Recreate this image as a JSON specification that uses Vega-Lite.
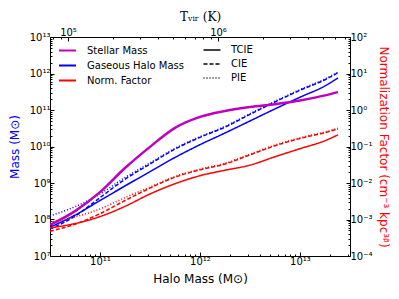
{
  "$schema": "https://vega.github.io/schema/vega-lite/v6.json",
  "width": 300,
  "height": 219,
  "autosize": {"type": "none"},
  "padding": {"left": 50, "top": 37, "right": 49, "bottom": 43},
  "config": {
    "view": {"stroke": "black", "strokeWidth": 1},
    "font": "DejaVu Sans",
    "axis": {"domain": false, "grid": false, "labelFont": "DejaVu Sans", "labelFontSize": 10, "labelColor": "black", "tickColor": "black", "titleFont": "DejaVu Sans", "titleFontWeight": "normal", "titleFontSize": 12, "labelPadding": 3}
  },
  "datasets": {
    "mass": [
      {"mh": 3.162e10, "value": 7.079e7, "quantity": "Stellar Mass", "model": "TCIE"},
      {"mh": 5.623e10, "value": 1.698e8, "quantity": "Stellar Mass", "model": "TCIE"},
      {"mh": 1e11, "value": 5.623e8, "quantity": "Stellar Mass", "model": "TCIE"},
      {"mh": 1.778e11, "value": 2.570e9, "quantity": "Stellar Mass", "model": "TCIE"},
      {"mh": 3.162e11, "value": 9.772e9, "quantity": "Stellar Mass", "model": "TCIE"},
      {"mh": 5.623e11, "value": 3.236e10, "quantity": "Stellar Mass", "model": "TCIE"},
      {"mh": 1e12, "value": 6.457e10, "quantity": "Stellar Mass", "model": "TCIE"},
      {"mh": 1.778e12, "value": 9.333e10, "quantity": "Stellar Mass", "model": "TCIE"},
      {"mh": 3.162e12, "value": 1.202e11, "quantity": "Stellar Mass", "model": "TCIE"},
      {"mh": 5.623e12, "value": 1.445e11, "quantity": "Stellar Mass", "model": "TCIE"},
      {"mh": 1e13, "value": 1.820e11, "quantity": "Stellar Mass", "model": "TCIE"},
      {"mh": 1.778e13, "value": 2.512e11, "quantity": "Stellar Mass", "model": "TCIE"},
      {"mh": 2.399e13, "value": 3.090e11, "quantity": "Stellar Mass", "model": "TCIE"},

      {"mh": 3.162e10, "value": 6.166e7, "quantity": "Gaseous Halo Mass", "model": "TCIE"},
      {"mh": 5.623e10, "value": 1.318e8, "quantity": "Gaseous Halo Mass", "model": "TCIE"},
      {"mh": 1e11, "value": 3.311e8, "quantity": "Gaseous Halo Mass", "model": "TCIE"},
      {"mh": 1.778e11, "value": 8.318e8, "quantity": "Gaseous Halo Mass", "model": "TCIE"},
      {"mh": 3.162e11, "value": 2.042e9, "quantity": "Gaseous Halo Mass", "model": "TCIE"},
      {"mh": 5.623e11, "value": 5.012e9, "quantity": "Gaseous Halo Mass", "model": "TCIE"},
      {"mh": 1e12, "value": 1.122e10, "quantity": "Gaseous Halo Mass", "model": "TCIE"},
      {"mh": 1.778e12, "value": 2.344e10, "quantity": "Gaseous Halo Mass", "model": "TCIE"},
      {"mh": 3.162e12, "value": 5.012e10, "quantity": "Gaseous Halo Mass", "model": "TCIE"},
      {"mh": 5.623e12, "value": 1.072e11, "quantity": "Gaseous Halo Mass", "model": "TCIE"},
      {"mh": 1e13, "value": 2.239e11, "quantity": "Gaseous Halo Mass", "model": "TCIE"},
      {"mh": 1.778e13, "value": 4.571e11, "quantity": "Gaseous Halo Mass", "model": "TCIE"},
      {"mh": 2.399e13, "value": 7.586e11, "quantity": "Gaseous Halo Mass", "model": "TCIE"},

      {"mh": 3.162e10, "value": 5.495e7, "quantity": "Gaseous Halo Mass", "model": "CIE"},
      {"mh": 5.623e10, "value": 1.230e8, "quantity": "Gaseous Halo Mass", "model": "CIE"},
      {"mh": 1e11, "value": 3.981e8, "quantity": "Gaseous Halo Mass", "model": "CIE"},
      {"mh": 1.778e11, "value": 1.259e9, "quantity": "Gaseous Halo Mass", "model": "CIE"},
      {"mh": 3.162e11, "value": 3.311e9, "quantity": "Gaseous Halo Mass", "model": "CIE"},
      {"mh": 5.623e11, "value": 8.511e9, "quantity": "Gaseous Halo Mass", "model": "CIE"},
      {"mh": 1e12, "value": 1.778e10, "quantity": "Gaseous Halo Mass", "model": "CIE"},
      {"mh": 1.778e12, "value": 3.388e10, "quantity": "Gaseous Halo Mass", "model": "CIE"},
      {"mh": 3.162e12, "value": 7.586e10, "quantity": "Gaseous Halo Mass", "model": "CIE"},
      {"mh": 5.623e12, "value": 1.660e11, "quantity": "Gaseous Halo Mass", "model": "CIE"},
      {"mh": 1e13, "value": 3.467e11, "quantity": "Gaseous Halo Mass", "model": "CIE"},
      {"mh": 1.778e13, "value": 6.761e11, "quantity": "Gaseous Halo Mass", "model": "CIE"},
      {"mh": 2.399e13, "value": 1.047e12, "quantity": "Gaseous Halo Mass", "model": "CIE"},

      {"mh": 3.162e10, "value": 1.259e8, "quantity": "Gaseous Halo Mass", "model": "PIE"},
      {"mh": 5.623e10, "value": 2.239e8, "quantity": "Gaseous Halo Mass", "model": "PIE"},
      {"mh": 1e11, "value": 5.012e8, "quantity": "Gaseous Halo Mass", "model": "PIE"},
      {"mh": 1.778e11, "value": 1.413e9, "quantity": "Gaseous Halo Mass", "model": "PIE"},
      {"mh": 3.162e11, "value": 3.548e9, "quantity": "Gaseous Halo Mass", "model": "PIE"},
      {"mh": 5.623e11, "value": 8.913e9, "quantity": "Gaseous Halo Mass", "model": "PIE"},
      {"mh": 1e12, "value": 1.862e10, "quantity": "Gaseous Halo Mass", "model": "PIE"},
      {"mh": 1.778e12, "value": 3.548e10, "quantity": "Gaseous Halo Mass", "model": "PIE"},
      {"mh": 3.162e12, "value": 7.943e10, "quantity": "Gaseous Halo Mass", "model": "PIE"},
      {"mh": 5.623e12, "value": 1.738e11, "quantity": "Gaseous Halo Mass", "model": "PIE"},
      {"mh": 1e13, "value": 3.631e11, "quantity": "Gaseous Halo Mass", "model": "PIE"},
      {"mh": 1.778e13, "value": 7.079e11, "quantity": "Gaseous Halo Mass", "model": "PIE"},
      {"mh": 2.399e13, "value": 1.096e12, "quantity": "Gaseous Halo Mass", "model": "PIE"}
    ],
    "norm": [
      {"mh": 3.162e10, "value": 5.888e-4, "quantity": "Norm. Factor", "model": "TCIE"},
      {"mh": 5.623e10, "value": 7.762e-4, "quantity": "Norm. Factor", "model": "TCIE"},
      {"mh": 1e11, "value": 1.202e-3, "quantity": "Norm. Factor", "model": "TCIE"},
      {"mh": 1.778e11, "value": 2.291e-3, "quantity": "Norm. Factor", "model": "TCIE"},
      {"mh": 3.162e11, "value": 5.012e-3, "quantity": "Norm. Factor", "model": "TCIE"},
      {"mh": 5.623e11, "value": 9.550e-3, "quantity": "Norm. Factor", "model": "TCIE"},
      {"mh": 1e12, "value": 1.585e-2, "quantity": "Norm. Factor", "model": "TCIE"},
      {"mh": 1.778e12, "value": 2.239e-2, "quantity": "Norm. Factor", "model": "TCIE"},
      {"mh": 3.162e12, "value": 3.090e-2, "quantity": "Norm. Factor", "model": "TCIE"},
      {"mh": 5.623e12, "value": 5.248e-2, "quantity": "Norm. Factor", "model": "TCIE"},
      {"mh": 1e13, "value": 8.710e-2, "quantity": "Norm. Factor", "model": "TCIE"},
      {"mh": 1.778e13, "value": 0.1445, "quantity": "Norm. Factor", "model": "TCIE"},
      {"mh": 2.399e13, "value": 0.2089, "quantity": "Norm. Factor", "model": "TCIE"},

      {"mh": 3.162e10, "value": 4.786e-4, "quantity": "Norm. Factor", "model": "CIE"},
      {"mh": 5.623e10, "value": 7.413e-4, "quantity": "Norm. Factor", "model": "CIE"},
      {"mh": 1e11, "value": 1.445e-3, "quantity": "Norm. Factor", "model": "CIE"},
      {"mh": 1.778e11, "value": 3.311e-3, "quantity": "Norm. Factor", "model": "CIE"},
      {"mh": 3.162e11, "value": 7.244e-3, "quantity": "Norm. Factor", "model": "CIE"},
      {"mh": 5.623e11, "value": 1.445e-2, "quantity": "Norm. Factor", "model": "CIE"},
      {"mh": 1e12, "value": 2.291e-2, "quantity": "Norm. Factor", "model": "CIE"},
      {"mh": 1.778e12, "value": 3.311e-2, "quantity": "Norm. Factor", "model": "CIE"},
      {"mh": 3.162e12, "value": 5.888e-2, "quantity": "Norm. Factor", "model": "CIE"},
      {"mh": 5.623e12, "value": 0.1047, "quantity": "Norm. Factor", "model": "CIE"},
      {"mh": 1e13, "value": 0.1660, "quantity": "Norm. Factor", "model": "CIE"},
      {"mh": 1.778e13, "value": 0.2399, "quantity": "Norm. Factor", "model": "CIE"},
      {"mh": 2.399e13, "value": 0.3020, "quantity": "Norm. Factor", "model": "CIE"},

      {"mh": 3.162e10, "value": 8.511e-4, "quantity": "Norm. Factor", "model": "PIE"},
      {"mh": 5.623e10, "value": 1.175e-3, "quantity": "Norm. Factor", "model": "PIE"},
      {"mh": 1e11, "value": 1.950e-3, "quantity": "Norm. Factor", "model": "PIE"},
      {"mh": 1.778e11, "value": 3.981e-3, "quantity": "Norm. Factor", "model": "PIE"},
      {"mh": 3.162e11, "value": 7.762e-3, "quantity": "Norm. Factor", "model": "PIE"},
      {"mh": 5.623e11, "value": 1.514e-2, "quantity": "Norm. Factor", "model": "PIE"},
      {"mh": 1e12, "value": 2.399e-2, "quantity": "Norm. Factor", "model": "PIE"},
      {"mh": 1.778e12, "value": 3.467e-2, "quantity": "Norm. Factor", "model": "PIE"},
      {"mh": 3.162e12, "value": 6.166e-2, "quantity": "Norm. Factor", "model": "PIE"},
      {"mh": 5.623e12, "value": 0.1096, "quantity": "Norm. Factor", "model": "PIE"},
      {"mh": 1e13, "value": 0.1738, "quantity": "Norm. Factor", "model": "PIE"},
      {"mh": 1.778e13, "value": 0.2512, "quantity": "Norm. Factor", "model": "PIE"},
      {"mh": 2.399e13, "value": 0.3162, "quantity": "Norm. Factor", "model": "PIE"}
    ],
    "topaxis": [{"T": 1e5}],
    "minor": [{"a": 1e11, "b": 1e8, "t": 1e5, "n": 1e-2}]
  },
  "layer": [
    {
      "data": {"name": "mass"},
      "transform": [{"filter": "datum.quantity === 'Gaseous Halo Mass'"}],
      "mark": {"type": "line", "strokeWidth": 1.5, "clip": true, "interpolate": "monotone"},
      "encoding": {
        "x": {"field": "mh", "type": "quantitative", "scale": {"type": "log", "domain": [3.1623e10, 3.1623e13], "nice": false},
          "axis": {"orient": "bottom", "values": [1e11, 1e12, 1e13], "tickSize": -4, "labelPadding": 4, "title": "Halo Mass (M⊙)", "titleColor": "black", "titlePadding": 7,
            "labelExpr": "'10' + (datum.value < 1 ? '⁻' : '') + (abs(round(log(datum.value)/LN10)) >= 10 ? '¹' : '') + substring('⁰¹²³⁴⁵⁶⁷⁸⁹', abs(round(log(datum.value)/LN10)) % 10, abs(round(log(datum.value)/LN10)) % 10 + 1)"}},
        "y": {"field": "value", "type": "quantitative", "scale": {"type": "log", "domain": [1e7, 1e13], "nice": false},
          "axis": {"orient": "left", "values": [1e7, 1e8, 1e9, 1e10, 1e11, 1e12, 1e13], "tickSize": -4, "labelPadding": 4, "title": "Mass (M⊙)", "titleColor": "#0000ff", "titlePadding": 8,
            "labelExpr": "'10' + (datum.value < 1 ? '⁻' : '') + (abs(round(log(datum.value)/LN10)) >= 10 ? '¹' : '') + substring('⁰¹²³⁴⁵⁶⁷⁸⁹', abs(round(log(datum.value)/LN10)) % 10, abs(round(log(datum.value)/LN10)) % 10 + 1)"}},
        "color": {"field": "quantity", "type": "nominal",
          "scale": {"domain": ["Stellar Mass", "Gaseous Halo Mass", "Norm. Factor"], "range": ["#bf00bf", "#0000ff", "#ff0000"]},
          "legend": {"orient": "none", "legendX": 12, "legendY": 8, "title": null, "symbolType": "M-2,0H2", "symbolSize": 72, "symbolStrokeWidth": 2, "labelOffset": 14, "labelFontSize": 10, "rowPadding": 4, "labelColor": "black"}},
        "strokeDash": {"field": "model", "type": "nominal",
          "scale": {"domain": ["TCIE", "CIE", "PIE"], "range": [[1, 0], [4, 2], [1, 2]]},
          "legend": {"orient": "none", "legendX": 157, "legendY": 8, "title": null, "symbolType": "M-2,0H2", "symbolSize": 72, "symbolStrokeWidth": 1.5, "symbolStrokeColor": "black", "labelOffset": 14, "labelFontSize": 10, "rowPadding": 4, "labelColor": "black"}}
      }
    },
    {
      "data": {"name": "mass"},
      "transform": [{"filter": "datum.quantity === 'Stellar Mass'"}],
      "mark": {"type": "line", "strokeWidth": 2.5, "clip": true, "interpolate": "monotone"},
      "encoding": {
        "x": {"field": "mh", "type": "quantitative", "scale": {"type": "log", "domain": [3.1623e10, 3.1623e13], "nice": false}, "axis": null},
        "y": {"field": "value", "type": "quantitative", "scale": {"type": "log", "domain": [1e7, 1e13], "nice": false}, "axis": null},
        "color": {"field": "quantity", "type": "nominal",
          "scale": {"domain": ["Stellar Mass", "Gaseous Halo Mass", "Norm. Factor"], "range": ["#bf00bf", "#0000ff", "#ff0000"]}}
      }
    },
    {
      "data": {"name": "norm"},
      "mark": {"type": "line", "strokeWidth": 1.5, "clip": true, "interpolate": "monotone"},
      "encoding": {
        "x": {"field": "mh", "type": "quantitative", "scale": {"type": "log", "domain": [3.1623e10, 3.1623e13], "nice": false}, "axis": null},
        "y": {"field": "value", "type": "quantitative", "scale": {"type": "log", "domain": [1e-4, 1e2], "nice": false},
          "axis": {"orient": "right", "values": [1e-4, 1e-3, 1e-2, 1e-1, 1, 10, 100], "tickSize": -4, "labelPadding": 4, "title": "Normalization Factor (cm⁻³ kpc³ᵝ)", "titleColor": "#ff0000", "titlePadding": 4,
            "labelExpr": "'10' + (datum.value < 1 ? '⁻' : '') + (abs(round(log(datum.value)/LN10)) >= 10 ? '¹' : '') + substring('⁰¹²³⁴⁵⁶⁷⁸⁹', abs(round(log(datum.value)/LN10)) % 10, abs(round(log(datum.value)/LN10)) % 10 + 1)"}},
        "color": {"field": "quantity", "type": "nominal",
          "scale": {"domain": ["Stellar Mass", "Gaseous Halo Mass", "Norm. Factor"], "range": ["#bf00bf", "#0000ff", "#ff0000"]}},
        "strokeDash": {"field": "model", "type": "nominal",
          "scale": {"domain": ["TCIE", "CIE", "PIE"], "range": [[1, 0], [4, 2], [1, 2]]}}
      }
    },
    {
      "data": {"name": "topaxis"},
      "mark": {"type": "point", "opacity": 0},
      "encoding": {
        "x": {"field": "T", "type": "quantitative", "scale": {"type": "log", "domain": [75858, 7585776], "nice": false},
          "axis": {"orient": "top", "values": [1e5, 1e6], "tickSize": -4, "labelPadding": 4, "title": "Tᵥᵢᵣ (K)", "titleFont": "DejaVu Serif", "titleColor": "black", "titlePadding": 4,
            "labelExpr": "'10' + (datum.value < 1 ? '⁻' : '') + (abs(round(log(datum.value)/LN10)) >= 10 ? '¹' : '') + substring('⁰¹²³⁴⁵⁶⁷⁸⁹', abs(round(log(datum.value)/LN10)) % 10, abs(round(log(datum.value)/LN10)) % 10 + 1)"}}
      }
    },
    {
      "data": {"name": "minor"},
      "mark": {"type": "point", "opacity": 0},
      "encoding": {
        "x": {"field": "a", "type": "quantitative", "scale": {"type": "log", "domain": [3.1623e10, 3.1623e13], "nice": false},
          "axis": {"orient": "bottom", "values": [4e10, 5e10, 6e10, 7e10, 8e10, 9e10, 2e11, 3e11, 4e11, 5e11, 6e11, 7e11, 8e11, 9e11, 2e12, 3e12, 4e12, 5e12, 6e12, 7e12, 8e12, 9e12, 2e13, 3e13], "labels": false, "tickSize": -2, "title": null}},
        "y": {"field": "b", "type": "quantitative", "scale": {"type": "log", "domain": [1e7, 1e13], "nice": false},
          "axis": {"orient": "left", "values": [2e7, 3e7, 4e7, 5e7, 6e7, 7e7, 8e7, 9e7, 2e8, 3e8, 4e8, 5e8, 6e8, 7e8, 8e8, 9e8, 2e9, 3e9, 4e9, 5e9, 6e9, 7e9, 8e9, 9e9, 2e10, 3e10, 4e10, 5e10, 6e10, 7e10, 8e10, 9e10, 2e11, 3e11, 4e11, 5e11, 6e11, 7e11, 8e11, 9e11, 2e12, 3e12, 4e12, 5e12, 6e12, 7e12, 8e12, 9e12], "labels": false, "tickSize": -2, "title": null}}
      }
    },
    {
      "data": {"name": "minor"},
      "mark": {"type": "point", "opacity": 0},
      "encoding": {
        "x": {"field": "t", "type": "quantitative", "scale": {"type": "log", "domain": [75858, 7585776], "nice": false},
          "axis": {"orient": "top", "values": [8e4, 9e4, 2e5, 3e5, 4e5, 5e5, 6e5, 7e5, 8e5, 9e5, 2e6, 3e6, 4e6, 5e6, 6e6, 7e6], "labels": false, "tickSize": -2, "title": null}},
        "y": {"field": "n", "type": "quantitative", "scale": {"type": "log", "domain": [1e-4, 1e2], "nice": false},
          "axis": {"orient": "right", "values": [2e-4, 3e-4, 4e-4, 5e-4, 6e-4, 7e-4, 8e-4, 9e-4, 2e-3, 3e-3, 4e-3, 5e-3, 6e-3, 7e-3, 8e-3, 9e-3, 2e-2, 3e-2, 4e-2, 5e-2, 6e-2, 7e-2, 8e-2, 9e-2, 0.2, 0.3, 0.4, 0.5, 0.6, 0.7, 0.8, 0.9, 2, 3, 4, 5, 6, 7, 8, 9, 20, 30, 40, 50, 60, 70, 80, 90], "labels": false, "tickSize": -2, "title": null}}
      }
    }
  ],
  "resolve": {"scale": {"x": "independent", "y": "independent"}}
}
